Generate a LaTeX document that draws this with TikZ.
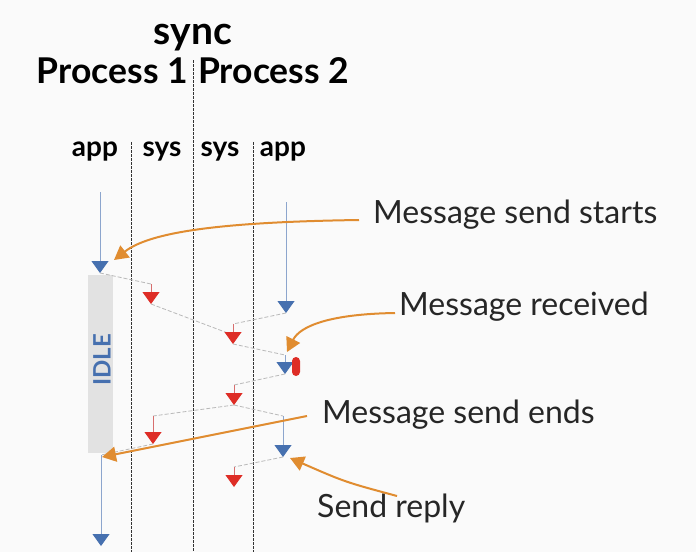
\documentclass[tikz,border=0pt]{standalone}
\usepackage{fontspec}
\setmainfont{Lato}
\usetikzlibrary{arrows.meta}

\definecolor{lineblue}{RGB}{140,165,205}
\definecolor{headblue}{RGB}{70,112,175}
\definecolor{linered}{RGB}{215,110,110}
\definecolor{headred}{RGB}{222,45,38}
\definecolor{callout}{RGB}{224,140,48}
\definecolor{idlegray}{RGB}{226,226,226}
\definecolor{msggray}{RGB}{185,185,185}

\tikzset{
  apparrow/.style={draw=lineblue,line width=0.9pt,-{Triangle[width=17pt,length=12pt,color=headblue]}},
  sysarrow/.style={draw=linered,line width=0.9pt,-{Triangle[width=17pt,length=12pt,color=headred]}},
  msgline/.style={draw=msggray,line width=0.8pt,dash pattern=on 4pt off 2pt},
  sepline/.style={draw=black!80,line width=0.9pt,dash pattern=on 2.5pt off 1.5pt},
  calloutarrow/.style={draw=callout,line width=2pt,-{Triangle[width=15pt,length=14pt]}},
  calloutlabel/.style={anchor=base west,inner sep=0pt,font=\fontsize{32}{34}\selectfont,text=black!85},
  heading/.style={anchor=base,inner sep=0pt,font=\bfseries\fontsize{35.5}{37}\selectfont},
  column/.style={anchor=base,inner sep=0pt,font=\bfseries\fontsize{28}{30}\selectfont}
}

\begin{document}
\begin{tikzpicture}[x=1pt,y=-1pt]
  \fill[white!98!black] (0,0) rectangle (696,552);
  \useasboundingbox (0,0) rectangle (696,552);

  % headings
  \node[heading,font=\bfseries\fontsize{39}{40}\selectfont] (sync) at (193,44) {sync};
  \node[heading,anchor=base east] (proc1) at (188,83) {Process 1};
  \node[heading,anchor=base west] (proc2) at (198,83) {Process 2};
  \node[column] (app1) at (95,156) {app};
  \node[column] (sys1) at (162,156) {sys};
  \node[column] (sys2) at (220,156) {sys};
  \node[column] (app2) at (283,156) {app};

  % column separators
  \draw[sepline] (193,60) -- (193,552);
  \draw[sepline] (131,142) -- (131,552);
  \draw[sepline] (253,142) -- (253,552);

  % idle block
  \node[fill=idlegray,minimum width=25pt,minimum height=178pt,inner sep=0pt] (idle) at (100.5,364) {};
  \node[rotate=90,inner sep=0pt,text=headblue,font=\bfseries\fontsize{24}{25}\selectfont] (idletext) at (102,360) {IDLE};

  % event points
  \coordinate (a1) at (100,192);  \coordinate (a2) at (100,273);
  \coordinate (r1) at (151,284);  \coordinate (r2) at (151,304);
  \coordinate (b1) at (286,202);  \coordinate (b2) at (286,313);
  \coordinate (r3) at (233,324);  \coordinate (r4) at (233,344);
  \coordinate (b3) at (285,355);  \coordinate (b4) at (285,374);
  \coordinate (r5) at (234,385);  \coordinate (r6) at (234,405);
  \coordinate (r7) at (153,416);  \coordinate (r8) at (153,444);
  \coordinate (b5) at (283,416);  \coordinate (b6) at (283,457);
  \coordinate (r9) at (234,467);  \coordinate (r10) at (234,487);
  \coordinate (a3) at (101,455);  \coordinate (a4) at (101,546);

  % message flow
  \draw[msgline] (a2) -- (r1);
  \draw[msgline] (r2) -- (233,335);
  \draw[msgline] (b2) -- (r3);
  \draw[msgline] (r4) -- (b3);
  \draw[msgline] (b4) -- (r5);
  \draw[msgline] (r6) -- (r7);
  \draw[msgline] (r6) -- (b5);
  \draw[msgline] (r8) -- (a3);
  \draw[msgline] (b6) -- (r9);

  \draw[apparrow] (a1) -- (a2);
  \draw[apparrow] (b1) -- (b2);
  \draw[apparrow] (b3) -- (b4);
  \draw[apparrow] (b5) -- (b6);
  \draw[apparrow] (a3) -- (a4);
  \draw[sysarrow] (r1) -- (r2);
  \draw[sysarrow] (r3) -- (r4);
  \draw[sysarrow] (r5) -- (r6);
  \draw[sysarrow] (r7) -- (r8);
  \draw[sysarrow] (r9) -- (r10);

  \node[fill=headred,rounded corners=4pt,minimum width=8pt,minimum height=19pt,inner sep=0pt] (recv) at (296,366.5) {};

  % callouts
  \node[calloutlabel] (starts) at (373,223) {Message send starts};
  \node[calloutlabel] (received) at (399,315) {Message received};
  \node[calloutlabel] (ends) at (322,423) {Message send ends};
  \node[calloutlabel] (reply) at (317,517) {Send reply};

  \coordinate (c1) at (359,220);
  \coordinate (c2) at (395,313);
  \coordinate (c3) at (307,416);
  \coordinate (c4) at (397,496);
  \draw[calloutarrow] (c1) .. controls (220,222) and (150,232) .. (114,260);
  \draw[calloutarrow] (c2) .. controls (330,314) and (300,326) .. (287,352);
  \draw[calloutarrow] (c3) -- (102,457);
  \draw[calloutarrow] (c4) .. controls (345,482) .. (290,458);
\end{tikzpicture}
\end{document}
